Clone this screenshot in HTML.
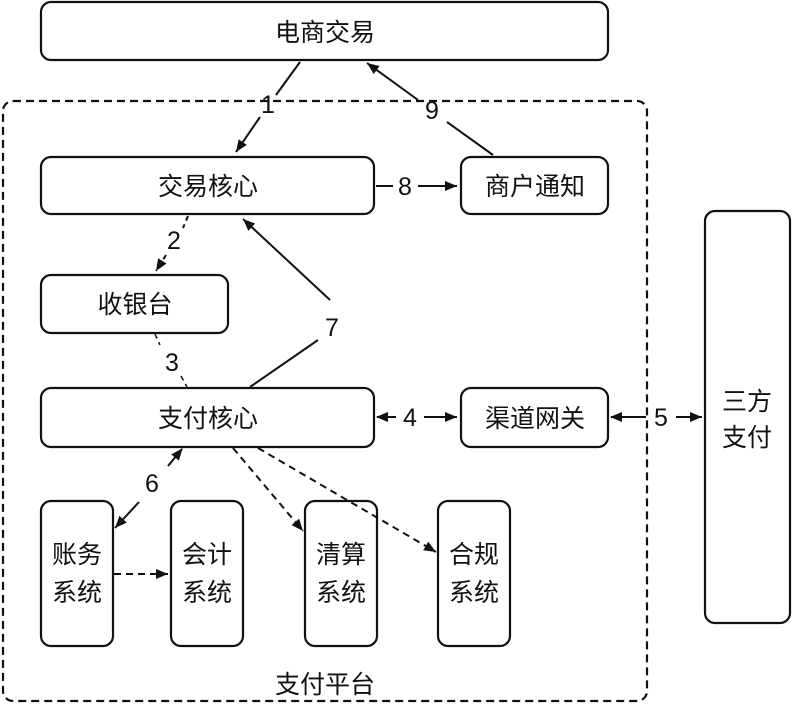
<!DOCTYPE html>
<html><head><meta charset="utf-8"><style>
body{margin:0;background:#fff}
text{font-family:"Liberation Sans","Noto Sans CJK SC",sans-serif;fill:#111}
</style></head><body>
<svg width="794" height="705" viewBox="0 0 794 705" xmlns="http://www.w3.org/2000/svg">
<defs>
<marker id="a" markerWidth="13" markerHeight="12" refX="12" refY="6" orient="auto" markerUnits="userSpaceOnUse">
<path d="M0,1 L12,6 L0,11 Z" fill="#111"/></marker>
<marker id="s" markerWidth="13" markerHeight="12" refX="1" refY="6" orient="auto" markerUnits="userSpaceOnUse">
<path d="M12,1 L0,6 L12,11 Z" fill="#111"/></marker>
</defs>
<g fill="#fff" stroke="#111" stroke-width="2.2">
<rect x="3" y="101" width="644" height="600" rx="10" stroke-dasharray="8,5"/>
<rect x="41" y="2" width="567" height="58" rx="10"/>
<rect x="41" y="157" width="333" height="57" rx="10"/>
<rect x="461" y="157" width="147" height="57" rx="10"/>
<rect x="41" y="275" width="187" height="58" rx="10"/>
<rect x="41" y="388" width="333" height="59" rx="10"/>
<rect x="461" y="388" width="147" height="59" rx="10"/>
<rect x="705" y="211" width="85" height="412" rx="10"/>
<rect x="41" y="501" width="72" height="145" rx="10"/>
<rect x="171" y="501" width="72" height="145" rx="10"/>
<rect x="305" y="501" width="72" height="145" rx="10"/>
<rect x="438" y="501" width="72" height="145" rx="10"/>
</g>
<g stroke="#111" stroke-width="2" fill="none">
<path d="M300,62 L276,95 M260,117 L236,152" marker-end="url(#a)"/>
<path d="M493,155 L447,122 M418,100 L367,63" marker-end="url(#a)"/>
<path d="M376,186 L393,186 M418,186 L457,186" marker-end="url(#a)"/>
<path d="M188,216 L183,228 M166,255 L156,271" marker-end="url(#a)" stroke-dasharray="5,4"/>
<path d="M155,334 L160,345 M181,376 L187,387" stroke-dasharray="5,4" stroke-width="1.5"/>
<path d="M250,387 L318,340" />
<path d="M330,300 L243,219" marker-end="url(#a)"/>
<path d="M377,417 L396,417 M424,417 L457,417" marker-start="url(#s)" marker-end="url(#a)"/>
<path d="M611,417 L646,417 M676,417 L702,417" marker-start="url(#s)" marker-end="url(#a)"/>
<path d="M182,449 L168,466 M139,502 L115,528" marker-start="url(#s)" marker-end="url(#a)"/>
<path d="M114,574 L168,574" marker-end="url(#a)" stroke-dasharray="7,5"/>
<path d="M233,448 L303,531" marker-end="url(#a)" stroke-dasharray="7,5"/>
<path d="M258,448 L436,552" marker-end="url(#a)" stroke-dasharray="7,5"/>
</g>
<g font-size="25" text-anchor="middle">
<text x="325" y="41">电商交易</text>
<text x="208" y="195">交易核心</text>
<text x="535" y="195">商户通知</text>
<text x="135" y="313">收银台</text>
<text x="208" y="427">支付核心</text>
<text x="535" y="427">渠道网关</text>
<text x="747" y="410">三方</text>
<text x="747" y="446">支付</text>
<text x="77" y="563">账务</text><text x="77" y="601">系统</text>
<text x="207" y="563">会计</text><text x="207" y="601">系统</text>
<text x="341" y="563">清算</text><text x="341" y="601">系统</text>
<text x="474" y="563">合规</text><text x="474" y="601">系统</text>
<text x="325" y="693">支付平台</text>
<text x="268" y="113">1</text>
<text x="432" y="119">9</text>
<text x="405" y="195">8</text>
<text x="174" y="249">2</text>
<text x="172" y="371">3</text>
<text x="332" y="336">7</text>
<text x="410" y="426">4</text>
<text x="661" y="426">5</text>
<text x="152" y="492">6</text>
</g>
</svg>
</body></html>
